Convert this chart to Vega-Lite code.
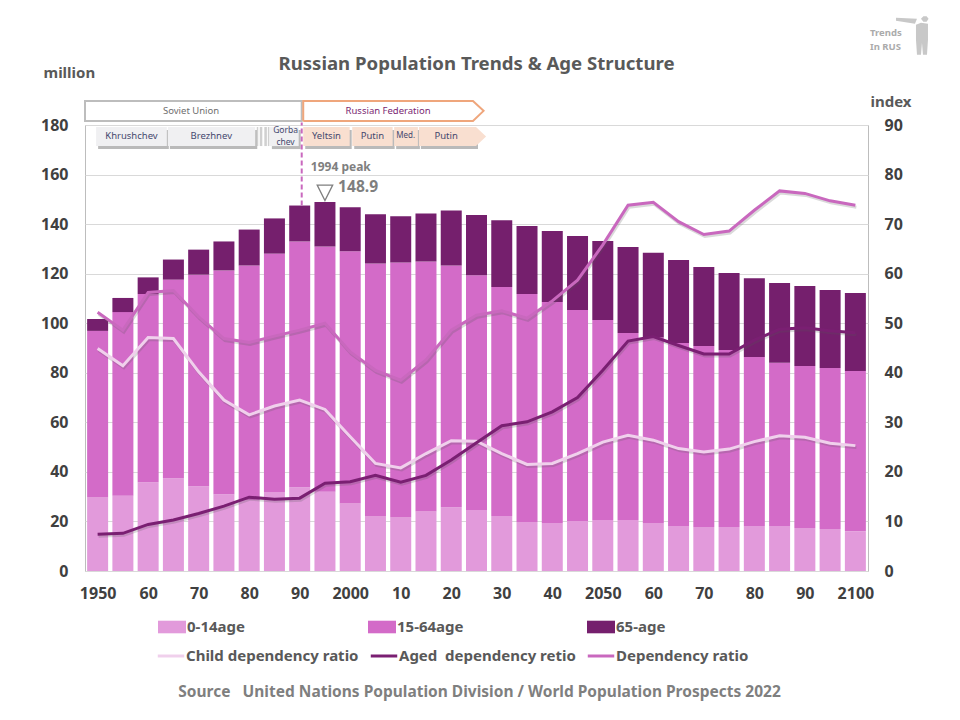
{
"$schema":"https://vega.github.io/schema/vega-lite/v6.json",
"width":783,"height":446,
"autosize":{"type":"none"},
"padding":{"left":85,"top":125,"right":92,"bottom":149},
"background":"white",
"config":{"font":"Noto Sans","view":{"stroke":"#BDBDBD","strokeWidth":1}},
"datasets":{
"population":[
{"year":1950,"group":"0-14age","million":29.7},{"year":1950,"group":"15-64age","million":67.2},{"year":1950,"group":"65-age","million":4.8},
{"year":1955,"group":"0-14age","million":30.4},{"year":1955,"group":"15-64age","million":74.1},{"year":1955,"group":"65-age","million":5.7},
{"year":1960,"group":"0-14age","million":35.8},{"year":1960,"group":"15-64age","million":76.0},{"year":1960,"group":"65-age","million":6.7},
{"year":1965,"group":"0-14age","million":37.4},{"year":1965,"group":"15-64age","million":80.2},{"year":1965,"group":"65-age","million":8.1},
{"year":1970,"group":"0-14age","million":34.2},{"year":1970,"group":"15-64age","million":85.4},{"year":1970,"group":"65-age","million":10.1},
{"year":1975,"group":"0-14age","million":31.0},{"year":1975,"group":"15-64age","million":90.3},{"year":1975,"group":"65-age","million":11.7},
{"year":1980,"group":"0-14age","million":28.7},{"year":1980,"group":"15-64age","million":94.6},{"year":1980,"group":"65-age","million":14.5},
{"year":1985,"group":"0-14age","million":31.9},{"year":1985,"group":"15-64age","million":96.2},{"year":1985,"group":"65-age","million":14.2},
{"year":1990,"group":"0-14age","million":33.8},{"year":1990,"group":"15-64age","million":99.2},{"year":1990,"group":"65-age","million":14.5},
{"year":1995,"group":"0-14age","million":32.0},{"year":1995,"group":"15-64age","million":99.0},{"year":1995,"group":"65-age","million":17.9},
{"year":2000,"group":"0-14age","million":27.2},{"year":2000,"group":"15-64age","million":101.8},{"year":2000,"group":"65-age","million":17.8},
{"year":2005,"group":"0-14age","million":22.0},{"year":2005,"group":"15-64age","million":102.1},{"year":2005,"group":"65-age","million":19.9},
{"year":2010,"group":"0-14age","million":21.6},{"year":2010,"group":"15-64age","million":102.9},{"year":2010,"group":"65-age","million":18.7},
{"year":2015,"group":"0-14age","million":24.0},{"year":2015,"group":"15-64age","million":100.9},{"year":2015,"group":"65-age","million":19.4},
{"year":2020,"group":"0-14age","million":25.7},{"year":2020,"group":"15-64age","million":97.6},{"year":2020,"group":"65-age","million":22.2},
{"year":2025,"group":"0-14age","million":24.6},{"year":2025,"group":"15-64age","million":94.8},{"year":2025,"group":"65-age","million":24.3},
{"year":2030,"group":"0-14age","million":22.2},{"year":2030,"group":"15-64age","million":92.4},{"year":2030,"group":"65-age","million":27.0},
{"year":2035,"group":"0-14age","million":19.8},{"year":2035,"group":"15-64age","million":92.0},{"year":2035,"group":"65-age","million":27.4},
{"year":2040,"group":"0-14age","million":19.4},{"year":2040,"group":"15-64age","million":89.2},{"year":2040,"group":"65-age","million":28.6},
{"year":2045,"group":"0-14age","million":20.2},{"year":2045,"group":"15-64age","million":85.1},{"year":2045,"group":"65-age","million":29.9},
{"year":2050,"group":"0-14age","million":20.6},{"year":2050,"group":"15-64age","million":80.7},{"year":2050,"group":"65-age","million":31.9},
{"year":2055,"group":"0-14age","million":20.6},{"year":2055,"group":"15-64age","million":75.5},{"year":2055,"group":"65-age","million":34.7},
{"year":2060,"group":"0-14age","million":19.4},{"year":2060,"group":"15-64age","million":74.8},{"year":2060,"group":"65-age","million":34.2},
{"year":2065,"group":"0-14age","million":18.2},{"year":2065,"group":"15-64age","million":73.8},{"year":2065,"group":"65-age","million":33.5},
{"year":2070,"group":"0-14age","million":17.8},{"year":2070,"group":"15-64age","million":73.0},{"year":2070,"group":"65-age","million":31.9},
{"year":2075,"group":"0-14age","million":17.8},{"year":2075,"group":"15-64age","million":71.4},{"year":2075,"group":"65-age","million":31.1},
{"year":2080,"group":"0-14age","million":18.2},{"year":2080,"group":"15-64age","million":68.2},{"year":2080,"group":"65-age","million":31.8},
{"year":2085,"group":"0-14age","million":18.2},{"year":2085,"group":"15-64age","million":65.8},{"year":2085,"group":"65-age","million":32.2},
{"year":2090,"group":"0-14age","million":17.4},{"year":2090,"group":"15-64age","million":65.3},{"year":2090,"group":"65-age","million":32.3},
{"year":2095,"group":"0-14age","million":17.0},{"year":2095,"group":"15-64age","million":64.9},{"year":2095,"group":"65-age","million":31.5},
{"year":2100,"group":"0-14age","million":16.1},{"year":2100,"group":"15-64age","million":64.6},{"year":2100,"group":"65-age","million":31.5}
],
"ratios":[
{"year":1950,"series":"Child dependency ratio","index":44.9},{"year":1955,"series":"Child dependency ratio","index":41.4},{"year":1960,"series":"Child dependency ratio","index":47.1},{"year":1965,"series":"Child dependency ratio","index":46.9},{"year":1970,"series":"Child dependency ratio","index":40.2},{"year":1975,"series":"Child dependency ratio","index":34.5},{"year":1980,"series":"Child dependency ratio","index":31.5},{"year":1985,"series":"Child dependency ratio","index":33.3},{"year":1990,"series":"Child dependency ratio","index":34.5},{"year":1995,"series":"Child dependency ratio","index":32.6},{"year":2000,"series":"Child dependency ratio","index":27.1},{"year":2005,"series":"Child dependency ratio","index":21.7},{"year":2010,"series":"Child dependency ratio","index":20.8},{"year":2015,"series":"Child dependency ratio","index":23.7},{"year":2020,"series":"Child dependency ratio","index":26.3},{"year":2025,"series":"Child dependency ratio","index":26.2},{"year":2030,"series":"Child dependency ratio","index":23.7},{"year":2035,"series":"Child dependency ratio","index":21.5},{"year":2040,"series":"Child dependency ratio","index":21.7},{"year":2045,"series":"Child dependency ratio","index":23.7},{"year":2050,"series":"Child dependency ratio","index":26.0},{"year":2055,"series":"Child dependency ratio","index":27.4},{"year":2060,"series":"Child dependency ratio","index":26.4},{"year":2065,"series":"Child dependency ratio","index":24.7},{"year":2070,"series":"Child dependency ratio","index":24.0},{"year":2075,"series":"Child dependency ratio","index":24.6},{"year":2080,"series":"Child dependency ratio","index":26.1},{"year":2085,"series":"Child dependency ratio","index":27.3},{"year":2090,"series":"Child dependency ratio","index":27.0},{"year":2095,"series":"Child dependency ratio","index":25.8},{"year":2100,"series":"Child dependency ratio","index":25.3},
{"year":1950,"series":"Aged\u00a0 dependency retio","index":7.4},{"year":1955,"series":"Aged\u00a0 dependency retio","index":7.6},{"year":1960,"series":"Aged\u00a0 dependency retio","index":9.4},{"year":1965,"series":"Aged\u00a0 dependency retio","index":10.3},{"year":1970,"series":"Aged\u00a0 dependency retio","index":11.6},{"year":1975,"series":"Aged\u00a0 dependency retio","index":13.1},{"year":1980,"series":"Aged\u00a0 dependency retio","index":14.9},{"year":1985,"series":"Aged\u00a0 dependency retio","index":14.5},{"year":1990,"series":"Aged\u00a0 dependency retio","index":14.7},{"year":1995,"series":"Aged\u00a0 dependency retio","index":17.7},{"year":2000,"series":"Aged\u00a0 dependency retio","index":18.0},{"year":2005,"series":"Aged\u00a0 dependency retio","index":19.3},{"year":2010,"series":"Aged\u00a0 dependency retio","index":17.9},{"year":2015,"series":"Aged\u00a0 dependency retio","index":19.3},{"year":2020,"series":"Aged\u00a0 dependency retio","index":22.4},{"year":2025,"series":"Aged\u00a0 dependency retio","index":25.9},{"year":2030,"series":"Aged\u00a0 dependency retio","index":29.3},{"year":2035,"series":"Aged\u00a0 dependency retio","index":30.1},{"year":2040,"series":"Aged\u00a0 dependency retio","index":32.1},{"year":2045,"series":"Aged\u00a0 dependency retio","index":35.0},{"year":2050,"series":"Aged\u00a0 dependency retio","index":40.5},{"year":2055,"series":"Aged\u00a0 dependency retio","index":46.4},{"year":2060,"series":"Aged\u00a0 dependency retio","index":47.3},{"year":2065,"series":"Aged\u00a0 dependency retio","index":45.5},{"year":2070,"series":"Aged\u00a0 dependency retio","index":43.8},{"year":2075,"series":"Aged\u00a0 dependency retio","index":43.8},{"year":2080,"series":"Aged\u00a0 dependency retio","index":46.6},{"year":2085,"series":"Aged\u00a0 dependency retio","index":48.8},{"year":2090,"series":"Aged\u00a0 dependency retio","index":49.1},{"year":2095,"series":"Aged\u00a0 dependency retio","index":48.5},{"year":2100,"series":"Aged\u00a0 dependency retio","index":48.1},
{"year":1950,"series":"Dependency ratio","index":52.2},{"year":1955,"series":"Dependency ratio","index":48.6},{"year":1960,"series":"Dependency ratio","index":56.2},{"year":1965,"series":"Dependency ratio","index":56.6},{"year":1970,"series":"Dependency ratio","index":51.3},{"year":1975,"series":"Dependency ratio","index":46.9},{"year":1980,"series":"Dependency ratio","index":46.1},{"year":1985,"series":"Dependency ratio","index":47.4},{"year":1990,"series":"Dependency ratio","index":48.6},{"year":1995,"series":"Dependency ratio","index":50.0},{"year":2000,"series":"Dependency ratio","index":44.2},{"year":2005,"series":"Dependency ratio","index":40.5},{"year":2010,"series":"Dependency ratio","index":38.5},{"year":2015,"series":"Dependency ratio","index":42.6},{"year":2020,"series":"Dependency ratio","index":48.6},{"year":2025,"series":"Dependency ratio","index":51.6},{"year":2030,"series":"Dependency ratio","index":52.5},{"year":2035,"series":"Dependency ratio","index":51.0},{"year":2040,"series":"Dependency ratio","index":54.5},{"year":2045,"series":"Dependency ratio","index":58.7},{"year":2050,"series":"Dependency ratio","index":65.8},{"year":2055,"series":"Dependency ratio","index":73.8},{"year":2060,"series":"Dependency ratio","index":74.4},{"year":2065,"series":"Dependency ratio","index":70.5},{"year":2070,"series":"Dependency ratio","index":67.9},{"year":2075,"series":"Dependency ratio","index":68.6},{"year":2080,"series":"Dependency ratio","index":72.8},{"year":2085,"series":"Dependency ratio","index":76.7},{"year":2090,"series":"Dependency ratio","index":76.2},{"year":2095,"series":"Dependency ratio","index":74.7},{"year":2100,"series":"Dependency ratio","index":73.8}
],
"sovietLeaders":[{"name":"Khrushchev","from":1949.7,"to":1963.7},{"name":"Brezhnev","from":1963.9,"to":1981.2},{"name":"Gorbachev","from":1984.1,"to":1989.8}],
"russianLeaders":[{"name":"Yeltsin","from":1990.7,"to":1999.9},{"name":"Putin","from":2000.4,"to":2008.4},{"name":"Med.","from":2008.7,"to":2013.4},{"name":"Putin","from":2013.6,"to":2024.9}]
},
"layer":[
{"layer":[
{"data":{"name":"population"},"mark":{"type":"bar","size":21},
 "encoding":{
  "x":{"field":"year","type":"quantitative","scale":{"domain":[1947.5,2102.5],"nice":false,"zero":false,"padding":0},
   "axis":{"values":[1950,1960,1970,1980,1990,2000,2010,2020,2030,2040,2050,2060,2070,2080,2090,2100],"title":null,"domain":false,"ticks":false,"grid":false,"labelPadding":14,"labelFontSize":16,"labelFontWeight":"bold","labelColor":"#404040","labelFont":"Noto Sans","labelOverlap":false,"labelFlush":false,"labelExpr":"datum.value%50==0?''+datum.value:(datum.value%100<10?'0':'')+(datum.value%100)"}},
  "y":{"field":"million","type":"quantitative","stack":"zero","scale":{"domain":[0,180],"nice":false},
   "axis":{"values":[0,20,40,60,80,100,120,140,160,180],"title":"million","titleAngle":0,"titleAlign":"left","titleBaseline":"middle","titleX":-42,"titleY":-53,"titleFontSize":15,"titleFontWeight":"bold","titleColor":"#595959","domain":false,"ticks":false,"grid":true,"gridColor":"#D9D9D9","labelPadding":17,"labelFontSize":16,"labelFontWeight":"bold","labelColor":"#404040"}},
  "color":{"field":"group","type":"nominal","scale":{"domain":["0-14age","15-64age","65-age"],"range":["#E29ADB","#D36BC8","#751F6D"]},
   "legend":{"title":null,"orient":"none","legendX":73,"legendY":488,"direction":"horizontal","columns":3,"columnPadding":123,"symbolType":"M-1,-0.45H1V0.45H-1Z","symbolSize":784,"symbolOpacity":1,"symbolStrokeWidth":0,"labelFontSize":15,"labelFontWeight":"bold","labelColor":"#595959","labelOffset":1,"labelLimit":400,"padding":0}},
  "order":{"field":"group","type":"nominal"}
 }},
{"data":{"values":[{"label":"Soviet Union","from":1947.5,"to":1990.4,"low":181.6,"high":189.7}]},"mark":{"type":"rect","fill":"white","stroke":"#BDBDBD","strokeWidth":2},
 "encoding":{"x":{"field":"from","type":"quantitative"},"x2":{"field":"to"},"y":{"field":"low","type":"quantitative"},"y2":{"field":"high"}}},
{"data":{"values":[{"seq":1,"year":1990.7,"level":181.6},{"seq":2,"year":2024.3,"level":181.6},{"seq":3,"year":2026.4,"level":185.7},{"seq":4,"year":2024.3,"level":189.7},{"seq":5,"year":1990.7,"level":189.7},{"seq":6,"year":1990.7,"level":181.6}]},"mark":{"type":"line","stroke":"#EFA67C","strokeWidth":2},
 "encoding":{"x":{"field":"year","type":"quantitative"},"y":{"field":"level","type":"quantitative"},"order":{"field":"seq","type":"quantitative"}}},
{"data":{"values":[{"label":"Soviet Union","year":1968.5,"level":185.6}]},"mark":{"type":"text","fontSize":9.5,"color":"#6E6E6E"},
 "encoding":{"x":{"field":"year","type":"quantitative"},"y":{"field":"level","type":"quantitative"},"text":{"field":"label"}}},
{"data":{"values":[{"label":"Russian Federation","year":2007.5,"level":185.6}]},"mark":{"type":"text","fontSize":9.5,"color":"#7A1F72"},
 "encoding":{"x":{"field":"year","type":"quantitative"},"y":{"field":"level","type":"quantitative"},"text":{"field":"label"}}},
{"data":{"name":"sovietLeaders"},"mark":{"type":"rect","fill":"#8C8C8C","opacity":0.6,"xOffset":2,"x2Offset":2,"yOffset":3,"y2Offset":3},
 "encoding":{"x":{"field":"from","type":"quantitative"},"x2":{"field":"to"},"y":{"datum":179.2,"type":"quantitative"},"y2":{"datum":171.5}}},
{"data":{"name":"russianLeaders"},"mark":{"type":"rect","fill":"#8C8C8C","opacity":0.6,"xOffset":2,"x2Offset":2,"yOffset":3,"y2Offset":3},
 "encoding":{"x":{"field":"from","type":"quantitative"},"x2":{"field":"to"},"y":{"datum":179.2,"type":"quantitative"},"y2":{"datum":171.5}}},
{"data":{"values":[{"year":1982.1,"end":1982.6},{"year":1983.0,"end":1983.5},{"year":1983.7,"end":1984.0},{"year":1981.5,"end":1981.8}]},"mark":{"type":"rect","fill":"#D0D0D0"},
 "encoding":{"x":{"field":"year","type":"quantitative"},"x2":{"field":"end"},"y":{"datum":179.2,"type":"quantitative"},"y2":{"datum":171.5}}},
{"data":{"name":"sovietLeaders"},"mark":{"type":"rect","fill":"#F0F0F2"},
 "encoding":{"x":{"field":"from","type":"quantitative"},"x2":{"field":"to"},"y":{"datum":179.2,"type":"quantitative"},"y2":{"datum":171.5}}},
{"data":{"name":"russianLeaders"},"mark":{"type":"rect","fill":"#F9DFD0"},
 "encoding":{"x":{"field":"from","type":"quantitative"},"x2":{"field":"to"},"y":{"datum":179.2,"type":"quantitative"},"y2":{"datum":171.5}}},
{"data":{"values":[{"year":2024.9,"top":179.2,"bottom":171.5},{"year":2026.9,"top":175.35,"bottom":175.35}]},"mark":{"type":"area","fill":"#F9DFD0"},
 "encoding":{"x":{"field":"year","type":"quantitative"},"y":{"field":"top","type":"quantitative"},"y2":{"field":"bottom"}}},
{"data":{"values":[{"label":"Khrushchev","year":1956.7,"level":175.6},{"label":"Brezhnev","year":1972.5,"level":175.6},{"label":"Yeltsin","year":1995.3,"level":175.4},{"label":"Putin","year":2004.4,"level":175.4},{"label":"Putin","year":2019,"level":175.6}]},"mark":{"type":"text","fontSize":9.5,"color":"#45486E"},
 "encoding":{"x":{"field":"year","type":"quantitative"},"y":{"field":"level","type":"quantitative"},"text":{"field":"label"}}},
{"data":{"values":[{"label":"Gorba","year":1987.2,"level":178},{"label":"chev","year":1987.2,"level":173}]},"mark":{"type":"text","fontSize":8.5,"color":"#45486E"},
 "encoding":{"x":{"field":"year","type":"quantitative"},"y":{"field":"level","type":"quantitative"},"text":{"field":"label"}}},
{"data":{"values":[{"label":"Med.","year":2011,"level":175.6}]},"mark":{"type":"text","fontSize":8,"color":"#45486E"},
 "encoding":{"x":{"field":"year","type":"quantitative"},"y":{"field":"level","type":"quantitative"},"text":{"field":"label"}}},
{"data":{"values":[{"year":1990.4,"from":147.5,"to":181}]},"mark":{"type":"rule","stroke":"#C968BE","strokeWidth":2,"strokeDash":[5,3]},
 "encoding":{"x":{"field":"year","type":"quantitative"},"y":{"field":"from","type":"quantitative"},"y2":{"field":"to"}}},
{"data":{"values":[{"label":"1994 peak","year":1992.2,"level":162.9}]},"mark":{"type":"text","align":"left","fontSize":12,"fontWeight":"bold","color":"#7F7F7F"},
 "encoding":{"x":{"field":"year","type":"quantitative"},"y":{"field":"level","type":"quantitative"},"text":{"field":"label"}}},
{"data":{"values":[{"label":"148.9","year":1997.6,"level":155.1}]},"mark":{"type":"text","align":"left","fontSize":15.6,"fontWeight":"bold","color":"#7F7F7F"},
 "encoding":{"x":{"field":"year","type":"quantitative"},"y":{"field":"level","type":"quantitative"},"text":{"field":"label"}}},
{"data":{"values":[{"year":1995,"level":152.6}]},"mark":{"type":"point","shape":"M-1,-1H1L0,1Z","size":240,"filled":false,"stroke":"#7F7F7F","strokeWidth":1.3,"opacity":1},
 "encoding":{"x":{"field":"year","type":"quantitative"},"y":{"field":"level","type":"quantitative"}}},
{"data":{"values":[{"label":"Russian Population Trends & Age Structure","year":2025,"level":204.7}]},"mark":{"type":"text","fontSize":18.6,"fontWeight":"bold","color":"#595959"},
 "encoding":{"x":{"field":"year","type":"quantitative"},"y":{"field":"level","type":"quantitative"},"text":{"field":"label"}}},
{"data":{"values":[{"label":"Source\u00a0\u00a0\u00a0United Nations Population Division / World Population Prospects 2022","year":2025.6,"level":-48.8}]},"mark":{"type":"text","fontSize":15.5,"fontWeight":"bold","color":"#7F7F7F"},
 "encoding":{"x":{"field":"year","type":"quantitative"},"y":{"field":"level","type":"quantitative"},"text":{"field":"label"}}},
{"data":{"values":[{"label":"Trends","year":2102.9,"level":217},{"label":"In RUS","year":2102.9,"level":211.6}]},"mark":{"type":"text","align":"left","fontSize":9.5,"fontWeight":"bold","color":"#ABABAB"},
 "encoding":{"x":{"field":"year","type":"quantitative"},"y":{"field":"level","type":"quantitative"},"text":{"field":"label"}}},
{"data":{"values":[{"year":2111.8,"level":216}]},"mark":{"type":"point","filled":true,"fill":"#C8C8C8","opacity":1,"strokeWidth":0,"size":1600,"shape":"M-0.95,-0.9L0.1,-0.85L0,-0.6L-0.95,-0.75ZM0.05,-0.55L0.3,-0.65L0.65,-0.6L0.65,0.2L0.6,0.95L0.4,0.95L0.35,0.35L0.3,0.95L0.1,0.95L0.05,0.2ZM0.3,-0.85L0.42,-0.98L0.58,-0.98L0.68,-0.85L0.58,-0.7L0.42,-0.7Z"},
 "encoding":{"x":{"field":"year","type":"quantitative"},"y":{"field":"level","type":"quantitative"}}}
]},
{"layer":[
{"data":{"name":"ratios"},"mark":{"type":"line","stroke":"#555555","strokeWidth":3,"opacity":0.22,"xOffset":1,"yOffset":2},
 "encoding":{"x":{"field":"year","type":"quantitative"},"y":{"field":"index","type":"quantitative","scale":{"domain":[0,90],"nice":false},
   "axis":{"orient":"right","values":[0,10,20,30,40,50,60,70,80,90],"title":"index","titleAngle":0,"titleAlign":"left","titleBaseline":"middle","titleX":2,"titleY":-24,"titleFontSize":15,"titleFontWeight":"bold","titleColor":"#595959","domain":false,"ticks":false,"grid":false,"labelPadding":16,"labelFontSize":16,"labelFontWeight":"bold","labelColor":"#404040"}},"detail":{"field":"series"}}},
{"data":{"name":"ratios"},"mark":{"type":"line","strokeWidth":3},
 "encoding":{
  "x":{"field":"year","type":"quantitative"},
  "y":{"field":"index","type":"quantitative","scale":{"domain":[0,90],"nice":false}},
  "color":{"field":"series","type":"nominal","scale":{"domain":["Child dependency ratio","Aged\u00a0 dependency retio","Dependency ratio"],"range":["#F0D0EC","#7A1F72","#C968BE"]},
   "legend":{"title":null,"orient":"none","legendX":71,"legendY":516,"direction":"horizontal","columns":3,"columnPadding":5,"symbolType":"stroke","symbolSize":700,"symbolStrokeWidth":3,"labelFontSize":15,"labelFontWeight":"bold","labelColor":"#595959","labelOffset":0,"labelLimit":400,"padding":0}}
 }}
]}
],
"resolve":{"scale":{"y":"independent","color":"independent"},"axis":{"y":"independent"}}
}
